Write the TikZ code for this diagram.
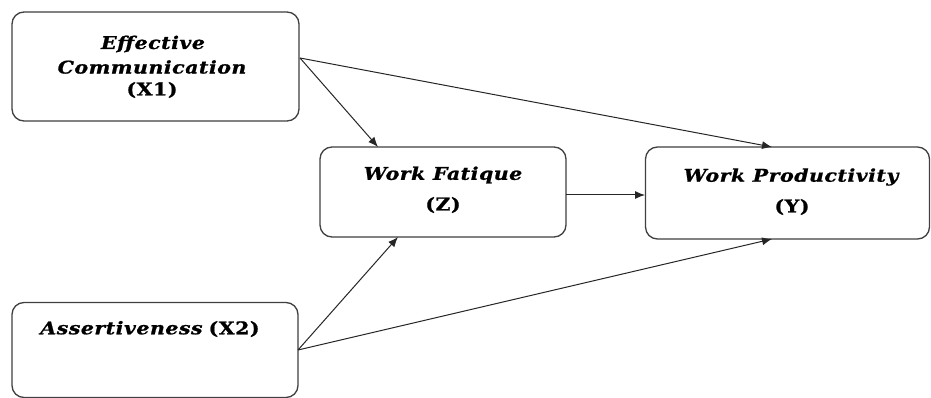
\documentclass[tikz,border=0pt]{standalone}
\usepackage{fontspec}
\setmainfont{DejaVu Serif}
\newfontfamily\lblfont[FakeStretch=1.17,LetterSpace=3,FakeBold=1]{DejaVu Serif}
\usetikzlibrary{arrows.meta}
\begin{document}
\begin{tikzpicture}[x=1pt,y=-1pt,
  varbox/.style={draw=black!75,line width=1.3pt,rounded corners=12pt,inner sep=0pt},
  lbl/.style={font=\lblfont\fontsize{17.5}{20}\selectfont\bfseries\itshape,inner sep=0pt,anchor=center},
  lblup/.style={font=\lblfont\fontsize{17.5}{20}\selectfont\bfseries,inner sep=0pt,anchor=center},
  conn/.style={draw=black!85,line width=1pt,-{Latex[length=10pt,width=8pt]}}]
\useasboundingbox[fill=white] (0,0) rectangle (931,398);
% boxes
\node[varbox,minimum width=287pt,minimum height=109pt] (x1) at (155.5,66.5) {};
\node[varbox,minimum width=246pt,minimum height=90pt] (z) at (443,192) {};
\node[varbox,minimum width=284pt,minimum height=92pt] (y) at (787.5,193) {};
\node[varbox,minimum width=286pt,minimum height=95pt] (x2) at (155,350) {};
% labels
\node[lbl] (x1a) at (153,44) {Effective};
\node[lbl] (x1b) at (152,67) {Communication};
\node[lblup] (x1c) at (152,90) {(X1)};
\node[lbl] (za) at (443,175) {Work Fatique};
\node[lblup] (zb) at (443,205) {(Z)};
\node[lbl] (ya) at (791,177) {Work Productivity};
\node[lblup] (yb) at (792,207) {(Y)};
\node (x2a) [lbl] at (150,329) {Assertiveness\hspace{6pt}\upshape(X2)};
% connector anchors
\coordinate (x1o) at (300,58);
\coordinate (zin1) at (378,147);
\coordinate (yin1) at (772,147);
\coordinate (zin2) at (398,237);
\coordinate (yin2) at (772,239);
\coordinate (x2o) at (298,350);
\coordinate (zo) at (566,195);
\coordinate (yi) at (645,195);
% connectors
\draw[conn] (x1o) -- (zin1);
\draw[conn] (x1o) -- (yin1);
\draw[conn] (zo) -- (yi);
\draw[conn] (x2o) -- (zin2);
\draw[conn] (x2o) -- (yin2);
\end{tikzpicture}
\end{document}
